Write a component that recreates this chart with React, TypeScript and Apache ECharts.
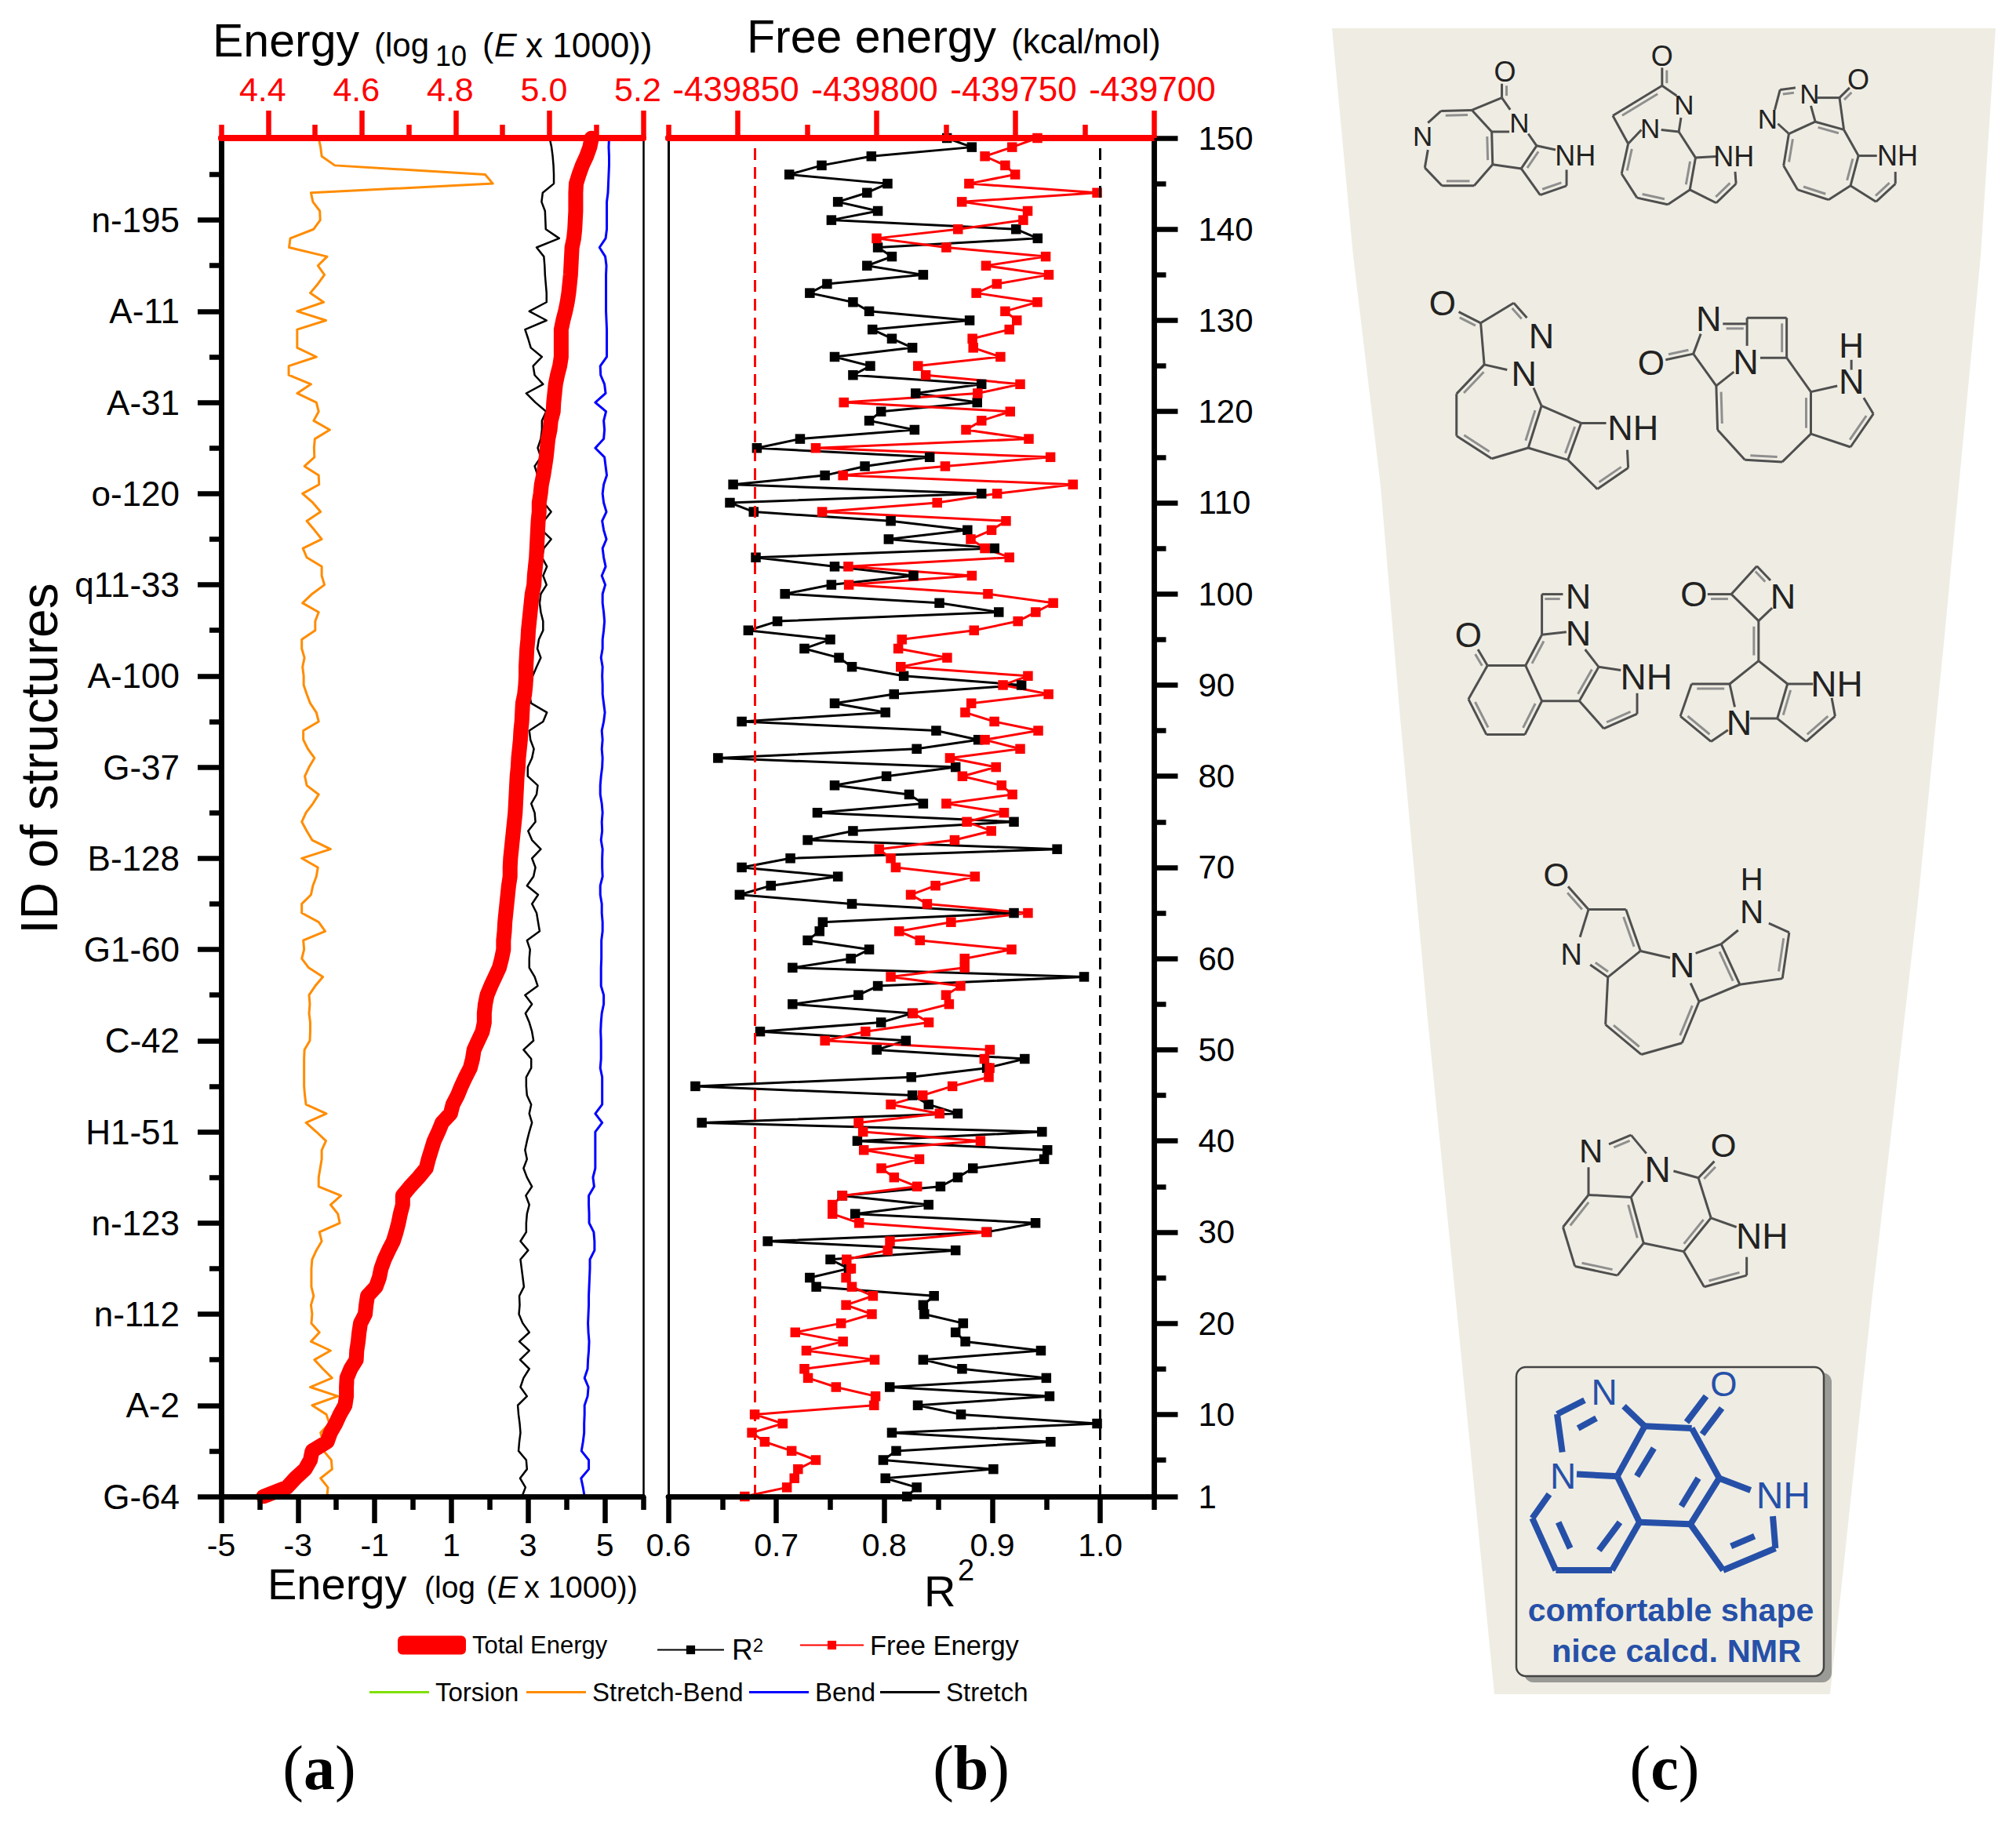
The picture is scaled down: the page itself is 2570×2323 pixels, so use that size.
import React, { useEffect, useRef } from "react";
import * as echarts from "echarts";

// ---------- Panel (a) labels and ticks ----------
const structureTicks = [0, 10, 20, 30, 40, 50, 60, 70, 80, 90, 100, 110, 120, 130, 140];
const structureLabels = ["G-64", "A-2", "n-112", "n-123", "H1-51", "C-42", "G1-60", "B-128", "G-37", "A-100", "q11-33", "o-120", "A-31", "A-11", "n-195"];
const structureMinorTicks = [5, 15, 25, 35, 45, 55, 65, 75, 85, 95, 105, 115, 125, 135, 145];
const logEnergyMajor = [-5, -3, -1, 1, 3, 5];
const logEnergyMinor = [-4, -2, 0, 2, 4, 6];
const log10Major = [4.4, 4.6, 4.8, 5.0, 5.2];
const log10Minor = [4.3, 4.5, 4.7, 4.9, 5.1];

// ---------- Panel (b) labels and ticks ----------
const idTicks = [1, 10, 20, 30, 40, 50, 60, 70, 80, 90, 100, 110, 120, 130, 140, 150];
const idMinorTicks = [5, 15, 25, 35, 45, 55, 65, 75, 85, 95, 105, 115, 125, 135, 145];
const r2Major = [0.6, 0.7, 0.8, 0.9, 1.0];
const r2Minor = [0.65, 0.75, 0.85, 0.95, 1.05];
const freeMajor = [-439850, -439800, -439750, -439700];
const freeMinor = [-439875, -439825, -439775, -439725];

// ---------- Series ----------
const totalEnergy = [4.39,4.44,4.458,4.479,4.49,4.494,4.526,4.533,4.544,4.553,4.564,4.567,4.567,4.568,4.576,4.588,4.589,4.592,4.594,4.597,4.607,4.609,4.612,4.63,4.637,4.641,4.648,4.657,4.667,4.673,4.678,4.682,4.687,4.687,4.703,4.721,4.737,4.742,4.748,4.754,4.763,4.771,4.789,4.794,4.804,4.812,4.821,4.831,4.836,4.839,4.848,4.857,4.861,4.861,4.863,4.867,4.875,4.884,4.893,4.898,4.902,4.902,4.904,4.905,4.907,4.909,4.911,4.913,4.916,4.916,4.917,4.919,4.921,4.923,4.925,4.927,4.928,4.929,4.93,4.931,4.933,4.934,4.936,4.938,4.939,4.941,4.942,4.943,4.947,4.949,4.95,4.95,4.951,4.952,4.954,4.955,4.957,4.959,4.961,4.963,4.967,4.968,4.97,4.972,4.973,4.974,4.975,4.976,4.978,4.978,4.981,4.983,4.987,4.99,4.993,4.995,4.997,5.001,5.003,5.008,5.009,5.011,5.013,5.017,5.022,5.025,5.025,5.025,5.025,5.029,5.034,5.038,5.041,5.043,5.045,5.046,5.047,5.048,5.052,5.054,5.055,5.056,5.056,5.056,5.057,5.063,5.07,5.079,5.086,5.09];
const stretchBend = [-2.24,-2.22,-2.41,-2.11,-2.13,-2.33,-2.35,-2.41,-2.18,-2.26,-2.63,-1.96,-2.68,-2.11,-2.35,-2.57,-2.15,-2.66,-2.44,-2.65,-2.63,-2.66,-2.59,-2.65,-2.65,-2.65,-2.63,-2.52,-2.38,-2.44,-1.91,-1.96,-2.15,-1.88,-2.46,-2.46,-2.42,-2.38,-2.38,-2.27,-2.52,-2.79,-2.26,-2.79,-2.82,-2.84,-2.84,-2.84,-2.84,-2.83,-2.69,-2.68,-2.68,-2.71,-2.69,-2.71,-2.55,-2.35,-2.72,-2.9,-2.84,-2.86,-2.29,-2.46,-2.9,-2.9,-2.66,-2.61,-2.52,-2.48,-2.9,-2.15,-2.63,-2.77,-2.9,-2.79,-2.61,-2.46,-2.77,-2.82,-2.71,-2.57,-2.74,-2.86,-2.86,-2.46,-2.52,-2.68,-2.77,-2.85,-2.85,-2.88,-2.83,-2.9,-2.9,-2.55,-2.55,-2.46,-2.88,-2.63,-2.31,-2.38,-2.38,-2.77,-2.87,-2.38,-2.57,-2.77,-2.41,-2.61,-2.88,-2.45,-2.46,-2.83,-2.57,-2.58,-2.56,-2.17,-2.59,-2.46,-2.52,-3.02,-2.66,-3.24,-3.24,-2.52,-3.02,-3.02,-3.02,-2.27,-3.02,-2.33,-2.68,-2.48,-2.31,-2.48,-2.24,-3.23,-3.2,-2.59,-2.42,-2.43,-2.61,-2.66,2.08,1.88,-2.04,-2.38,-2.41,-2.46];
const stretchEnergy = [2.84,2.93,2.79,2.97,2.95,2.75,2.77,2.8,2.78,2.75,2.73,2.97,2.8,2.88,3.03,2.79,3.03,2.77,3.03,2.86,2.76,2.78,2.77,2.89,2.86,2.83,2.8,3.0,2.8,2.95,2.95,2.97,3.03,2.94,3.1,2.97,2.88,2.97,2.92,2.97,3.03,3.1,3.03,3.08,2.97,2.95,2.95,3.08,3.08,2.88,3.14,3.1,3.03,2.93,3.1,2.92,3.25,3.17,3.03,3.03,3.05,2.97,3.3,3.26,3.22,3.1,3.26,2.97,3.14,3.19,3.1,3.33,3.1,3.0,3.19,3.17,3.08,3.22,3.25,2.99,2.99,3.1,3.15,3.06,3.03,3.39,3.49,3.08,3.03,3.08,3.12,3.22,3.33,3.24,3.28,3.39,3.39,3.33,3.3,3.33,3.48,3.39,3.49,3.36,3.41,3.6,3.36,3.41,3.6,3.41,3.33,3.28,3.25,3.17,3.33,3.25,3.33,3.36,3.36,3.47,3.19,2.95,3.39,3.17,3.13,3.36,3.07,3.0,2.92,3.48,3.03,3.48,3.48,3.46,3.44,3.43,3.41,3.22,3.81,3.46,3.45,3.44,3.35,3.38,3.67,3.67,3.66,3.64,3.61,3.56];
const bendEnergy = [4.47,4.43,4.38,4.58,4.58,4.39,4.43,4.46,4.46,4.47,4.47,4.55,4.57,4.47,4.55,4.56,4.58,4.59,4.57,4.56,4.57,4.58,4.58,4.59,4.6,4.61,4.61,4.73,4.73,4.71,4.59,4.59,4.58,4.58,4.72,4.69,4.75,4.75,4.75,4.75,4.75,4.93,4.75,4.93,4.93,4.93,4.93,4.88,4.9,4.9,4.9,4.89,4.9,4.92,4.97,4.97,4.9,4.9,4.9,4.91,4.91,4.91,4.94,4.94,4.92,4.92,4.88,4.88,4.94,4.93,4.93,4.94,4.9,4.93,4.92,4.94,4.92,4.88,4.88,4.9,4.93,4.94,4.92,4.94,4.92,4.97,5.0,4.97,4.94,4.94,4.93,4.94,4.9,4.94,4.94,4.97,4.99,4.97,4.94,4.94,5.01,4.92,5.02,4.97,4.94,5.04,4.97,4.93,5.04,4.97,4.94,4.97,5.05,5.02,4.99,4.75,4.97,4.99,4.97,5.03,4.75,5.02,4.99,4.89,4.88,5.05,5.05,5.05,5.05,5.04,5.03,5.03,5.03,5.03,5.03,5.04,5.01,4.86,5.02,5.05,5.05,5.05,5.05,5.08,5.09,5.1,5.11,5.11,5.1,5.11];
const rSquared = [0.821,0.83,0.801,0.901,0.799,0.811,0.954,0.807,0.997,0.871,0.831,0.953,0.805,0.95,0.872,0.836,0.945,0.875,0.866,0.873,0.837,0.836,0.846,0.737,0.731,0.767,0.75,0.866,0.692,0.895,0.94,0.773,0.841,0.761,0.852,0.868,0.882,0.948,0.951,0.775,0.946,0.631,0.868,0.841,0.826,0.625,0.825,0.895,0.93,0.793,0.82,0.685,0.797,0.826,0.715,0.776,0.794,0.985,0.715,0.769,0.786,0.729,0.74,0.743,0.92,0.77,0.666,0.695,0.757,0.668,0.713,0.96,0.729,0.771,0.92,0.738,0.836,0.823,0.754,0.802,0.866,0.646,0.83,0.887,0.848,0.668,0.801,0.754,0.809,0.927,0.818,0.77,0.758,0.726,0.75,0.674,0.701,0.906,0.851,0.708,0.751,0.827,0.754,0.681,0.902,0.804,0.877,0.806,0.679,0.657,0.89,0.66,0.745,0.782,0.842,0.682,0.722,0.828,0.786,0.797,0.886,0.829,0.89,0.771,0.787,0.754,0.826,0.807,0.789,0.879,0.786,0.771,0.731,0.747,0.836,0.784,0.807,0.794,0.942,0.922,0.751,0.794,0.757,0.784,0.803,0.712,0.742,0.788,0.881,0.858];
const freeEnergy = [-439847.5,-439832.3,-439829.6,-439828.3,-439821.9,-439830.6,-439840.3,-439844.9,-439833.8,-439843.9,-439800.9,-439800.4,-439814.6,-439824.7,-439826.0,-439800.7,-439825.3,-439812.1,-439829.3,-439812.8,-439801.7,-439811.0,-439801.3,-439808.9,-439811.0,-439809.2,-439810.8,-439796.0,-439795.2,-439760.5,-439806.3,-439815.9,-439815.9,-439812.3,-439785.4,-439793.7,-439798.3,-439784.6,-439804.6,-439762.6,-439804.9,-439806.5,-439777.3,-439794.9,-439783.4,-439772.7,-439759.6,-439759.3,-439761.2,-439759.2,-439818.6,-439804.0,-439781.2,-439786.9,-439773.9,-439775.0,-439769.8,-439794.9,-439768.3,-439768.3,-439751.4,-439784.4,-439791.9,-439773.2,-439745.5,-439781.8,-439787.7,-439778.8,-439764.6,-439793.1,-439794.9,-439799.1,-439771.9,-439758.7,-439767.5,-439754.1,-439774.9,-439751.1,-439755.0,-439769.1,-439757.0,-439773.6,-439748.3,-439761.0,-439741.8,-439757.6,-439768.1,-439765.9,-439738.1,-439754.5,-439745.5,-439791.3,-439774.6,-439792.2,-439790.9,-439764.9,-439749.1,-439742.7,-439736.4,-439759.9,-439810.0,-439765.7,-439810.2,-439752.2,-439761.0,-439766.1,-439758.6,-439753.4,-439819.6,-439778.2,-439756.6,-439729.3,-439812.1,-439775.3,-439737.4,-439821.9,-439745.2,-439767.8,-439762.2,-439751.9,-439811.8,-439763.6,-439748.3,-439782.3,-439785.1,-439755.4,-439765.2,-439765.5,-439752.2,-439749.5,-439753.7,-439742.1,-439764.1,-439756.7,-439738.0,-439760.6,-439739.1,-439774.9,-439800.0,-439770.7,-439747.2,-439745.6,-439769.3,-439720.6,-439766.7,-439750.1,-439753.7,-439761.0,-439751.2,-439742.1];
const r2Reference = 1.0;
const freeReference = 0.6765;

// ---------- Panel (c) illustration (crop coordinates with their origin and scale) ----------
type Bond = number[];
const topCrop = { ox: 1680, oy: 20, fx: 1.782, fy: 1.96 };
const midCrop = { ox: 1780, oy: 740, fx: 2.306, fy: 1.704 };
const boxCrop = { ox: 1860, oy: 1400, fx: 3, fy: 1.96 };

const mol1: Bond[] = [[250,268,280,238],[280,238,350,236,1],[350,236,395,290],[395,290,397,372,1],[397,372,355,425],[355,425,282,425,1],[282,425,243,380],[243,380,250,335],[350,236,418,205],[418,205,437,235],[395,290,435,290],[397,372,462,382],[462,382,497,325,1],[497,325,478,295],[497,325,540,335],[462,382,505,448],[565,425,505,448,1],[565,425,565,385],[418,205,418,170,1]];
const mol2: Bond[] = [[782,175,782,130,1],[670,250,782,175,1],[782,175,815,200],[670,250,705,320],[705,320,735,285],[780,285,820,290],[825,255,820,290],[820,290,858,355],[690,395,705,320,1],[690,395,725,455],[795,472,725,455,1],[795,472,845,435],[858,355,845,435,1],[858,355,905,352],[845,435,905,468],[950,420,905,468,1],[950,420,948,390]];
const mol3: Bond[] = [[1038,235,1050,185],[1050,185,1085,180,1],[1135,205,1185,205],[1185,205,1208,180,1],[1120,225,1130,265],[1130,265,1195,285,1],[1185,205,1195,285],[1045,270,1070,295],[1070,295,1130,265],[1058,375,1070,295,1],[1058,375,1090,435],[1160,460,1090,435,1],[1160,460,1210,425],[1228,350,1210,425,1],[1195,285,1228,350],[1228,350,1270,350],[1210,425,1268,465],[1312,420,1268,465,1],[1312,420,1312,390]];
const mol4: Bond[] = [[320,740,370,768,1],[370,768,445,718],[445,718,475,755,1],[370,768,378,872],[378,872,430,885],[315,945,378,872,1],[315,945,315,1050],[395,1107,315,1050,1],[395,1107,478,1080],[508,975,478,1080,1],[490,930,508,975],[508,975,598,1018],[598,1018,568,1110,1],[478,1080,568,1110],[598,1018,655,1018],[568,1110,635,1183],[705,1130,635,1183,1],[705,1130,703,1085]];
const mol5: Bond[] = [[920,770,975,770,1],[975,755,1065,755],[1065,755,1065,855,1],[975,755,975,825],[1005,855,1065,855],[870,795,853,845],[853,845,790,860,1],[853,845,905,925],[905,925,945,890],[908,1035,905,925,1],[908,1035,970,1110],[1055,1115,970,1110,1],[1055,1115,1120,1045],[1120,940,1120,1045,1],[1065,855,1120,940],[1120,940,1180,925],[1120,1045,1210,1078],[1262,995,1210,1078,1],[1262,995,1240,955],[1212,860,1212,885]];
const mol6: Bond[] = [[240,150,268,185,1],[268,185,380,185],[268,185,212,258],[265,335,212,258,1],[265,335,378,335],[428,262,378,335,1],[428,262,380,185],[380,185,428,118,1],[428,118,428,30],[428,30,490,30,1],[428,118,500,112],[555,150,595,188],[595,188,538,262,1],[428,262,538,262],[595,188,660,195],[538,262,610,322],[708,290,610,322,1],[708,290,708,245]];
const mol7: Bond[] = [[915,30,985,30,1],[985,30,1060,-31],[1060,-31,1100,0,1],[985,30,1065,88],[1065,88,1105,60],[1065,88,1065,175,1],[1065,175,980,225],[868,225,980,225,1],[868,225,835,295],[925,350,835,295,1],[925,350,975,325],[980,225,995,275],[1040,300,1120,300],[1065,175,1150,225],[1120,300,1150,225,1],[1150,225,1225,225],[1120,300,1205,350],[1290,295,1205,350,1],[1290,295,1280,255]];
const mol8: Bond[] = [[505,665,565,715,1],[565,715,675,715],[565,715,540,775],[675,715,718,805,1],[622,862,570,835,1],[622,862,718,805],[718,805,805,820],[622,862,615,965],[720,1030,615,965,1],[720,1030,840,1005],[890,915,840,1005,1],[865,875,890,915],[890,915,1010,878],[880,810,955,790],[955,790,1010,878,1],[955,790,1005,760],[1095,745,1155,765],[1155,765,1135,865,1],[1135,865,1010,878]];
const mol9: Bond[] = [[625,1225,690,1205,1],[690,1205,735,1245],[565,1275,565,1335],[490,1405,565,1335,1],[490,1405,525,1490],[650,1510,525,1490,1],[650,1510,727,1440],[690,1340,727,1440,1],[565,1335,690,1340],[690,1340,725,1305],[815,1283,888,1298],[888,1298,935,1262,1],[888,1298,925,1385],[925,1385,845,1458,1],[727,1440,845,1458],[925,1385,1000,1405],[845,1458,905,1535],[1030,1510,905,1535,1],[1030,1510,1030,1470]];
const mol10: Bond[] = [[480,755,375,790],[375,790,395,885],[455,825,525,800],[630,770,710,820],[710,820,890,825],[710,820,605,945],[680,945,745,875],[450,940,605,945],[605,945,690,1060],[690,1060,885,1065],[345,990,280,1050],[280,1050,370,1180],[370,1180,585,1180],[585,1180,690,1060],[380,1060,425,1125],[535,1130,615,1060],[890,825,995,950],[995,950,885,1065],[850,1020,915,950],[995,950,1115,980],[885,1065,1010,1180],[1010,1180,1210,1125],[1210,1125,1200,1045],[1040,1120,1130,1095],[870,810,945,745],[930,840,1005,775]];

type Atom = [string, number, number, number];
const atomsTop: Atom[] = [["N",238,300,35],["N",458,268,35],["NH",585,350,36],["O",425,140,36],["O",782,100,36],["N",832,222,35],["N",755,282,35],["NH",945,352,36],["O",1228,160,36],["N",1117,195,35],["N",1022,258,35],["NH",1317,350,36],["O",283,718,44],["N",508,800,45],["N",468,895,45],["NH",716,1030,45],["N",888,757,45],["O",757,868,44],["N",972,865,45],["H",1212,825,44],["N",1212,915,45]];
const atomsMid: Atom[] = [["O",212,118,44],["N",535,35,45],["N",535,115,45],["NH",735,210,46],["O",875,30,44],["N",1137,35,45],["NH",1295,225,46],["N",1008,310,45],["O",470,640,42],["H",1045,650,40],["N",1045,720,42],["N",515,812,38],["N",840,835,44],["O",962,1228,42],["N",572,1240,42],["N",768,1280,46],["NH",1075,1425,46]];
const atomsBox: Atom[] = [["N",555,735,46],["O",1012,715,44],["N",398,945,46],["NH",1240,992,48]];

const FONT = "Liberation Sans";
const SERIF = "Liberation Serif";

function bonds(list: Bond[], c: any, stroke: string, inner: string, lineWidth: number) {
  const out: any[] = [];
  for (const b of list) {
    const x1 = c.ox + b[0] / c.fx, y1 = c.oy + b[1] / c.fy, x2 = c.ox + b[2] / c.fx, y2 = c.oy + b[3] / c.fy;
    out.push({ type: "line", silent: true, shape: { x1, y1, x2, y2 }, style: { stroke, lineWidth } });
    if (b[4]) {
      const dx = x2 - x1, dy = y2 - y1, len = Math.hypot(dx, dy);
      const nx = (-dy / len) * 6, ny = (dx / len) * 6;
      out.push({ type: "line", silent: true, shape: { x1: x1 + nx + dx * 0.14, y1: y1 + ny + dy * 0.14, x2: x2 + nx - dx * 0.14, y2: y2 + ny - dy * 0.14 }, style: { stroke: inner, lineWidth } });
    }
  }
  return out;
}
function atoms(list: Atom[], c: any, fill: string) {
  return list.map(([t, x, y, s]) => ({ type: "text", silent: true, x: c.ox + x / c.fx, y: c.oy + y / c.fy, style: { text: t, fontSize: s, fontFamily: FONT, fill, align: "center", verticalAlign: "middle" } }));
}
function T(text: string, x: number, y: number, size: number, extra: any = {}) {
  return { type: "text", silent: true, x, y, style: { text, fontSize: size, fontFamily: FONT, fill: "#000", align: "left", verticalAlign: "middle", ...extra } };
}
function panelLabel(letter: string, x: number) {
  return { type: "text", silent: true, x, y: 2254, style: { text: `{p|(}{b|${letter}}{p|)}`, align: "center", verticalAlign: "middle", rich: { p: { fontFamily: SERIF, fontSize: 80, fill: "#000" }, b: { fontFamily: SERIF, fontSize: 80, fontWeight: "bold", fill: "#000" } } } };
}

const GRAY = "#4f4f4f";
const BLUE = "#2650A8";
const graphicElements: any[] = [
  // titles
  T("Energy", 271, 52, 59), T("(log", 477, 57, 42), T("10", 555, 71, 36), T("(", 615, 57, 43), T("E", 630, 57, 43, { fontStyle: "italic" }), T("x 1000))", 670, 57, 44),
  T("Free energy", 952, 47, 59), T("(kcal/mol)", 1289, 52, 44),
  T("Energy", 341, 2019, 56), T("(log", 541, 2023, 39), T("(", 620, 2023, 39), T("E", 634, 2023, 39, { fontStyle: "italic" }), T("x 1000))", 668, 2023, 39.5),
  T("R", 1178, 2028, 56), T("2", 1221, 2002, 38),
  { type: "text", silent: true, x: 50, y: 967, rotation: Math.PI / 2, style: { text: "ID of structures", fontSize: 66, fontFamily: FONT, fill: "#000", align: "center", verticalAlign: "middle" } },
  panelLabel("a", 407), panelLabel("b", 1238), panelLabel("c", 2122),
  // panel (c)
  { type: "polygon", silent: true, z: -1, shape: { points: [[1698,36],[2544,36],[2525,326],[2478,820],[2445,1150],[2386,1660],[2333,2160],[1905,2160],[1856,1660],[1820,1300],[1785,916],[1760,620],[1725,326]] }, style: { fill: "#EFEDE3" } },
  ...bonds(mol1, topCrop, GRAY, "#8f8f8f", 3), ...bonds(mol2, topCrop, GRAY, "#8f8f8f", 3), ...bonds(mol3, topCrop, GRAY, "#8f8f8f", 3), ...bonds(mol4, topCrop, GRAY, "#8f8f8f", 3), ...bonds(mol5, topCrop, GRAY, "#8f8f8f", 3),
  ...bonds(mol6, midCrop, GRAY, "#8f8f8f", 3), ...bonds(mol7, midCrop, GRAY, "#8f8f8f", 3), ...bonds(mol8, midCrop, GRAY, "#8f8f8f", 3), ...bonds(mol9, midCrop, GRAY, "#8f8f8f", 3),
  ...atoms(atomsTop, topCrop, "#222"), ...atoms(atomsMid, midCrop, "#222"),
  { type: "rect", silent: true, shape: { x: 1943, y: 1750, width: 392, height: 395, r: 12 }, style: { fill: "#9a9a96" } },
  { type: "rect", silent: true, shape: { x: 1933, y: 1743, width: 392, height: 394, r: 12 }, style: { fill: "#EFEDE3", stroke: "#444", lineWidth: 2.5 } },
  ...bonds(mol10, boxCrop, BLUE, BLUE, 8),
  ...atoms(atomsBox, boxCrop, BLUE),
  { type: "text", silent: true, x: 2130, y: 2053, style: { text: "comfortable shape", fontSize: 41, fontFamily: FONT, fontWeight: "bold", fill: BLUE, align: "center", verticalAlign: "middle" } },
  { type: "text", silent: true, x: 2137, y: 2104, style: { text: "nice calcd. NMR", fontSize: 41.5, fontFamily: FONT, fontWeight: "bold", fill: BLUE, align: "center", verticalAlign: "middle" } },
];

const labelFont = { fontFamily: FONT, fontSize: 41, color: "#000" };

function hiddenSplit() {
  return { splitLine: { show: false }, minorTick: { show: false }, minorSplitLine: { show: false } };
}
function xAxis(gridIndex: number, position: string, min: number, max: number, values: number[], len: number, color: string, width: number, labelled: boolean, fmt: (v: number) => string, margin: number, padding: any = 0, fontSize = 41) {
  return {
    type: "value", gridIndex, position, min, max, z: 10, ...hiddenSplit(),
    axisLine: { show: true, onZero: false, lineStyle: { color, width } },
    axisTick: { show: true, length: len, customValues: values, lineStyle: { color, width: 6.5 } },
    axisLabel: labelled ? { show: true, customValues: values, formatter: fmt, margin, padding, ...labelFont, color, fontSize } : { show: false },
  };
}
function yAxis(gridIndex: number, position: string, min: number, max: number, values: number[], len: number, width: number, labelled: boolean, fmt: (v: number) => string, margin: number, fontSize = 41) {
  return {
    type: "value", gridIndex, position, min, max, z: 10, ...hiddenSplit(),
    axisLine: { show: true, onZero: false, lineStyle: { color: "#000", width } },
    axisTick: { show: values.length > 0, length: len, customValues: values, lineStyle: { color: "#000", width: 6.5 } },
    axisLabel: labelled ? { show: true, customValues: values, formatter: fmt, margin, ...labelFont, fontSize } : { show: false },
  };
}

const fmtInt = (v: number) => String(Math.round(v));
const fmt1 = (v: number) => v.toFixed(1);
const structFmt = (v: number) => structureLabels[structureTicks.indexOf(Math.round(v))] ?? "";
const none = (_: number) => "";

const thin = (name: string, color: string, values: number[], width = 3) => ({
  name, type: "line", xAxisIndex: 0, yAxisIndex: 0, showSymbol: false, symbol: "none", silent: true,
  lineStyle: { color, width, join: "round" }, itemStyle: { color },
  data: values.map((v, i) => [v, i]),
});
const singleLegend = (name: string, left: number, top: number, itemWidth: number, itemHeight: number, icon: string | undefined, fontSize: number, extra: any = {}) => ({
  data: [name], left, top, padding: 0, itemGap: 0, itemWidth, itemHeight, ...(icon ? { icon } : {}),
  textStyle: { fontFamily: FONT, fontSize, color: "#000", padding: [0, 0, 0, 3] }, selectedMode: false, ...extra,
});

const option: any = {
  animation: false,
  backgroundColor: "#fff",
  grid: [
    { left: 282, top: 176, width: 538, height: 1732 },
    { left: 852, top: 176, width: 619.5, height: 1732 },
  ],
  xAxis: [
    xAxis(0, "bottom", -5, 6, logEnergyMajor, 34, "#000", 6.5, true, fmtInt, 41),
    xAxis(0, "bottom", -5, 6, logEnergyMinor, 17, "#000", 6.5, false, none, 0),
    xAxis(0, "top", 4.3, 5.2, log10Major, 35, "#FF0000", 8, true, fmt1, 41, [0, 14, 0, 0], 43),
    xAxis(0, "top", 4.3, 5.2, log10Minor, 17, "#FF0000", 8, false, none, 0),
    xAxis(1, "bottom", 0.6, 1.05, r2Major, 34, "#000", 6.5, true, fmt1, 41),
    xAxis(1, "bottom", 0.6, 1.05, r2Minor, 17, "#000", 6.5, false, none, 0),
    xAxis(1, "top", -439875, -439700, freeMajor, 35, "#FF0000", 8, true, fmtInt, 41, [0, 5, 0, 0], 44),
    xAxis(1, "top", -439875, -439700, freeMinor, 17, "#FF0000", 8, false, none, 0),
  ],
  yAxis: [
    yAxis(0, "left", 0, 149, structureTicks, 30, 6.5, true, structFmt, 53, 44),
    yAxis(0, "left", 0, 149, structureMinorTicks, 15, 6.5, false, none, 0),
    yAxis(0, "right", 0, 149, [], 0, 2.5, false, none, 0),
    yAxis(1, "left", 1, 150, [], 0, 3, false, none, 0),
    yAxis(1, "right", 1, 150, idTicks, 30, 6.5, true, fmtInt, 56, 42),
    yAxis(1, "right", 1, 150, idMinorTicks, 15, 6.5, false, none, 0),
  ],
  legend: [
    singleLegend("Total Energy", 507, 2082, 87, 24, "roundRect", 31),
    singleLegend("R²", 837, 2085, 85, 14, undefined, 36, { formatter: () => "{r|R}{s|2}", textStyle: { fontFamily: FONT, fontSize: 36, color: "#000", rich: { r: { fontSize: 37, fontFamily: FONT, color: "#000", padding: [0, 0, 0, 5] }, s: { fontSize: 24, verticalAlign: "top", fontFamily: FONT, color: "#000" } } } }),
    singleLegend("Free Energy", 1019, 2080, 81, 14, undefined, 34.5),
    singleLegend("Torsion", 471, 2141, 76, 3, "rect", 33),
    singleLegend("Stretch-Bend", 671, 2141, 76, 3, "rect", 33),
    singleLegend("Bend", 955, 2141, 76, 3, "rect", 33),
    singleLegend("Stretch", 1122, 2141, 76, 3, "rect", 33),
  ],
  graphic: { elements: graphicElements },
  series: [
    thin("Torsion", "#7FE000", []),
    thin("Stretch-Bend", "#FF8C00", stretchBend),
    thin("Bend", "#0000FF", bendEnergy),
    thin("Stretch", "#000000", stretchEnergy, 2.5),
    {
      name: "Total Energy", type: "line", xAxisIndex: 2, yAxisIndex: 0, showSymbol: false, symbol: "none", silent: true,
      lineStyle: { color: "#FF0000", width: 19, join: "round", cap: "round" }, itemStyle: { color: "#FF0000" },
      data: totalEnergy.map((v, i) => [v, i]),
    },
    {
      name: "R²", type: "line", xAxisIndex: 4, yAxisIndex: 4, symbol: "rect", symbolSize: 12.5, showSymbol: true, showAllSymbol: true, silent: true,
      lineStyle: { color: "#000", width: 3 }, itemStyle: { color: "#000" },
      data: rSquared.map((v, i) => [v, i + 1]),
      markLine: {
        silent: true, symbol: "none", label: { show: false },
        data: [
          { xAxis: freeReference, lineStyle: { color: "#FF0000", type: [15, 9], width: 3 } },
          { xAxis: r2Reference, lineStyle: { color: "#000", type: [15, 9], width: 3 } },
        ],
      },
    },
    {
      name: "Free Energy", type: "line", xAxisIndex: 6, yAxisIndex: 4, symbol: "rect", symbolSize: 12.5, showSymbol: true, showAllSymbol: true, silent: true,
      lineStyle: { color: "#FF0000", width: 3 }, itemStyle: { color: "#FF0000" },
      data: freeEnergy.map((v, i) => [v, i + 1]),
    },
  ],
};

export default function App() {
  const ref = useRef<HTMLDivElement>(null);
  useEffect(() => {
    document.body.style.margin = "0";
    const chart = echarts.init(ref.current as HTMLDivElement, undefined, { renderer: "svg" });
    chart.setOption(option);
    return () => chart.dispose();
  }, []);
  return <div ref={ref} style={{ width: 2570, height: 2323 }} />;
}
